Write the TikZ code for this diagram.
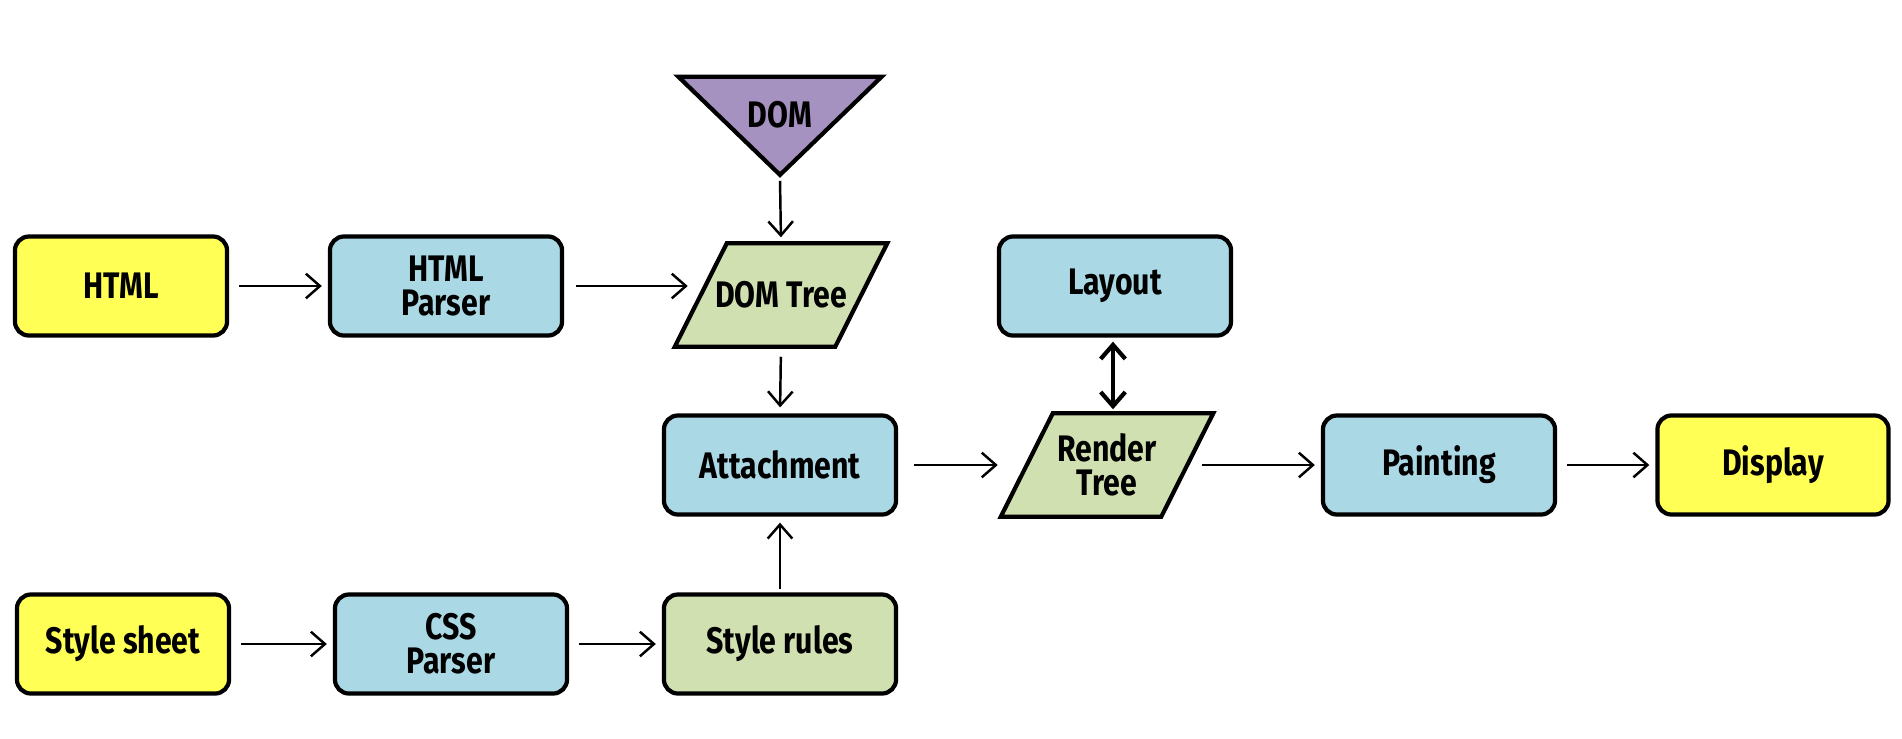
\documentclass[tikz,border=0pt]{standalone}
\usepackage{fontspec}
\setmainfont{Fira Sans}[FakeStretch=0.82]
\definecolor{inputyellow}{RGB}{255, 255, 85}
\definecolor{stepblue}{RGB}{170, 216, 228}
\definecolor{treegreen}{RGB}{208, 224, 176}
\definecolor{dompurple}{RGB}{166, 146, 192}
\usetikzlibrary{shapes.geometric, arrows.meta, calc, backgrounds}

\tikzset{
  label font/.style={font=\bfseries\fontsize{10.5}{9.6}\selectfont},
  stagebox/.style={draw, line width=1.2pt, rounded corners=4pt, align=center, label font,
    minimum width=2.32cm, minimum height=0.99cm},
  inputbox/.style={stagebox, fill=inputyellow, minimum width=2.12cm},
  procbox/.style={stagebox, fill=stepblue},
  rulebox/.style={stagebox, fill=treegreen},
  treebox/.style={align=center, label font, minimum width=1.59cm, minimum height=1.02cm},
  treeframe/.style={draw, line width=1.2pt, fill=treegreen, line join=miter},
  flow/.style={-{Straight Barb[length=4pt, width=7pt]}, line width=0.7pt,
    shorten <=0.1cm, shorten >=0.06cm},
}
% slanted outline round a tree node
\newcommand{\slantframe}[1]{%
  \begin{pgfonlayer}{background}
  \draw[treeframe] ([xshift=-0.26cm]#1.south west) -- ([xshift=0.26cm]#1.north west)
    -- ([xshift=0.26cm]#1.north east) -- ([xshift=-0.26cm]#1.south east) -- cycle;
  \end{pgfonlayer}}

\begin{document}
\begin{tikzpicture}[x=0.01cm, y=-0.01cm]
\useasboundingbox (0,0) rectangle (1902,738);
% top row
\node[inputbox] (html) at (121,286) {HTML};
\node[procbox] (htmlparser) at (446,286) {HTML\\Parser};
\node[draw, line width=1.2pt, fill=dompurple, isosceles triangle, isosceles triangle apex angle=92,
  isosceles triangle stretches, shape border rotate=270, minimum width=2.03cm, minimum height=0.98cm]
  (dom) at (780,115) {};
\node[label font] (domlabel) at (780,115) {DOM};
\node[treebox] (domtree) at (781,295) {DOM Tree};
\slantframe{domtree}
\node[procbox] (layout) at (1115,286) {Layout};
% middle row
\node[procbox] (attach) at (780,465) {Attachment};
\node[treebox] (render) at (1107,465) {Render\\Tree};
\slantframe{render}
\node[procbox] (paint) at (1439,465) {Painting};
\node[inputbox, minimum width=2.31cm] (display) at (1773,465) {Display};
% bottom row
\node[inputbox] (sheet) at (123,644) {Style sheet};
\node[procbox] (cssparser) at (451,644) {CSS\\Parser};
\node[rulebox] (rules) at (780,644) {Style rules};
% connectors
\draw[flow] (html) -- (htmlparser);
\draw[flow, shorten <=0.12cm, shorten >=0.13cm] (htmlparser.east) -- (htmlparser.east -| domtree.west);
\draw[flow, shorten <=0.03cm] (dom.apex) -- (domtree.north);
\draw[flow] (domtree.south) -- (attach.north);
\draw[flow, shorten <=0.03cm] (rules.north) -- (attach.south);
\draw[flow, shorten <=0.16cm, shorten >=0.29cm] (attach.east) -- (render.west);
\draw[flow, shorten <=0.15cm] (render.east) -- (paint.west);
\draw[flow] (paint) -- (display);
\draw[{Straight Barb[length=4pt, width=7pt]}-{Straight Barb[length=4pt, width=7pt]}, line width=1.2pt,
  shorten <=0.04cm, shorten >=0.04cm] (layout.south -| 1113,0) -- (render.north -| 1113,0);
\draw[flow] (sheet) -- (cssparser);
\draw[flow] (cssparser) -- (rules);
\end{tikzpicture}
\end{document}
